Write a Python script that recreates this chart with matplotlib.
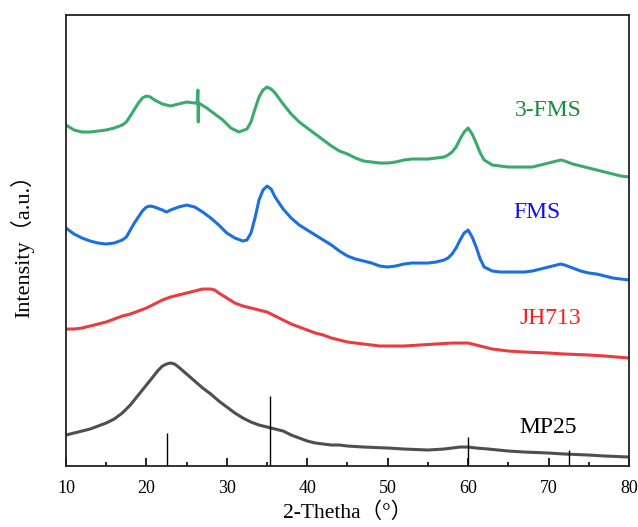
import matplotlib
matplotlib.use("Agg")
import matplotlib.pyplot as plt
from matplotlib.ticker import MultipleLocator

# XRD patterns, stacked with offsets (arbitrary intensity units)
mp25_x = [10, 11, 12, 13, 14, 15, 16, 17, 18, 19, 20, 21, 21.5, 22, 22.5, 23, 23.5, 24, 25, 26,
          27, 28, 29, 30, 31, 32, 33, 34, 35, 36, 37, 38, 39, 40, 41, 42, 43, 44, 45, 47, 50,
          52, 55, 57, 58, 59, 60, 61, 62.5, 65, 67, 70, 72, 75, 77, 80]
mp25_y = [31, 33, 35, 37, 40, 43, 47, 53, 61, 71, 81, 91, 96, 100, 102, 103, 102, 99, 92, 85,
          78, 72, 65, 59, 53, 48, 44, 41, 39, 37, 35, 31, 28, 25, 23, 22, 21, 21, 20, 19, 18,
          17, 16, 17, 18, 19, 19, 18, 17, 15, 14, 13, 12, 11, 10, 9]

jh713_x = [10, 11, 12, 13, 14, 15, 16, 17, 18, 19, 20, 21, 22, 23, 24, 25, 26, 27, 28, 28.5,
           29, 30, 31, 32, 33, 34, 35, 36, 37, 38, 39, 40, 41, 42, 43, 44, 45, 46, 47, 48, 49,
           50, 52, 54, 56, 58, 60, 61, 62, 63, 64, 65, 67, 70, 72, 75, 77, 80]
jh713_y = [137, 137, 138, 140, 142, 144, 147, 150, 152, 155, 158, 162, 166, 169, 171, 173, 175,
           177, 177, 176, 173, 168, 163, 160, 158, 156, 154, 150, 146, 142, 139, 136, 133, 131,
           128, 126, 124, 123, 122, 121, 120, 120, 120, 121, 122, 123, 123, 121, 119, 117, 116,
           115, 114, 113, 112, 111, 110, 108]

fms_x = [10, 11, 12, 13, 14, 15, 16, 17, 17.5, 18, 18.5, 19, 19.5, 20, 20.5, 21, 22, 22.5, 23,
         24, 25, 26, 27, 28, 29, 30, 31, 32, 32.5, 33, 33.5, 34, 34.5, 35, 35.5, 36, 37, 38, 39,
         40, 41, 42, 43, 44, 45, 46, 47, 48, 49, 50, 51, 52, 53, 54, 55, 56, 57, 57.5, 58, 58.5,
         59, 59.5, 60, 60.5, 61, 61.5, 62, 63, 64, 65, 66, 67, 68, 69, 70, 71, 71.5, 72, 73, 74,
         75, 76, 77, 78, 79, 80]
fms_y = [238, 232, 228, 225, 223, 222, 223, 226, 229, 236, 243, 249, 255, 259, 260, 259, 256,
         254, 256, 259, 261, 259, 254, 248, 241, 233, 228, 225, 226, 233, 248, 266, 276, 280,
         277, 269, 257, 248, 241, 236, 231, 226, 221, 215, 210, 207, 205, 203, 200, 199, 200,
         202, 203, 203, 203, 204, 206, 208, 212, 218, 226, 233, 236, 229, 219, 207, 199, 195,
         194, 194, 194, 194, 195, 197, 199, 201, 202, 201, 198, 195, 193, 192, 190, 188, 187,
         186]

fms3_x = [10, 11, 12, 13, 14, 15, 16, 17, 17.5, 18, 19, 19.5, 20, 20.5, 21, 22, 23, 24, 25, 26,
          26.3, 26.4, 26.45, 26.5, 27.5, 28.5, 29.5, 30.5, 31.5, 32.5, 33, 33.5, 34, 34.5, 35,
          35.5, 36, 37, 38, 39, 40, 41, 42, 43, 44, 45, 46, 47, 48, 49, 50, 51, 52, 53, 54, 55,
          56, 57, 57.5, 58, 58.5, 59, 59.5, 60, 60.5, 61, 61.5, 62, 63, 64, 65, 66, 67, 68, 69,
          70, 71, 71.5, 72, 73, 74, 75, 76, 77, 78, 79, 80]
fms3_y = [341, 336, 334, 334, 335, 336, 338, 341, 344, 350, 363, 368, 370, 369, 366, 362, 360,
          362, 364, 363, 363, 376, 344, 363, 358, 352, 346, 338, 334, 337, 344, 357, 369, 376,
          379, 377, 373, 362, 352, 344, 338, 332, 326, 320, 315, 312, 308, 305, 304, 303, 303,
          304, 306, 307, 307, 307, 308, 309, 311, 314, 319, 327, 334, 338, 332, 323, 313, 306,
          301, 300, 299, 299, 299, 299, 301, 303, 305, 306, 305, 302, 300, 298, 296, 294, 292,
          290, 289]

# standard reflection positions and relative heights
ref_pos = [22.5, 35.4, 60.0, 72.6]
ref_height = [33, 70, 29, 16]

fig = plt.figure(figsize=(6.38, 5.27), dpi=100)
ax = fig.add_axes([0.1034, 0.1157, 0.8825, 0.8558])

ax.plot(mp25_x, mp25_y, color="#4f4f4f", lw=2.2)
ax.plot(jh713_x, jh713_y, color="#ec3b40", lw=2.2)
ax.plot(fms_x, fms_y, color="#1c6fe0", lw=2.2)
ax.plot(fms3_x, fms3_y, color="#3aab6c", lw=2.2)
ax.vlines(ref_pos, 0, ref_height, color="black", lw=1.0)

serif = "Liberation Serif"
lab = dict(ha="center", va="center", fontsize=17, family=serif)
ax.text(70.0, 356, "3-FMS", color="#1a8c3a", **lab)
ax.text(68.6, 254, "FMS", color="#1010ee", **lab)
ax.text(70.2, 148, "JH713", color="#ff1a1a", **lab)
ax.text(70.0, 39, "MP25", color="black", **lab)

ax.set_xlim(10, 80)
ax.set_ylim(0, 451)
ax.xaxis.set_major_locator(MultipleLocator(10))
ax.xaxis.set_minor_locator(MultipleLocator(5))
ax.tick_params(axis="x", which="major", direction="in", length=6, width=1.2, labelsize=13, pad=10)
ax.tick_params(axis="x", which="minor", direction="in", length=3, width=1.2)
ax.set_yticks([])
for lbl in ax.get_xticklabels():
    lbl.set_family(serif)
for s in ax.spines.values():
    s.set_linewidth(1.3)
    s.set_color("#222222")

ax.set_xlabel("2-Thetha（°）", fontsize=15.5, family=[serif, "Noto Sans CJK SC"], labelpad=4)
ax.set_ylabel("Intensity（a.u.）", fontsize=16, family=[serif, "Noto Sans CJK SC"], labelpad=23)

fig.savefig("out.png", dpi=100)
